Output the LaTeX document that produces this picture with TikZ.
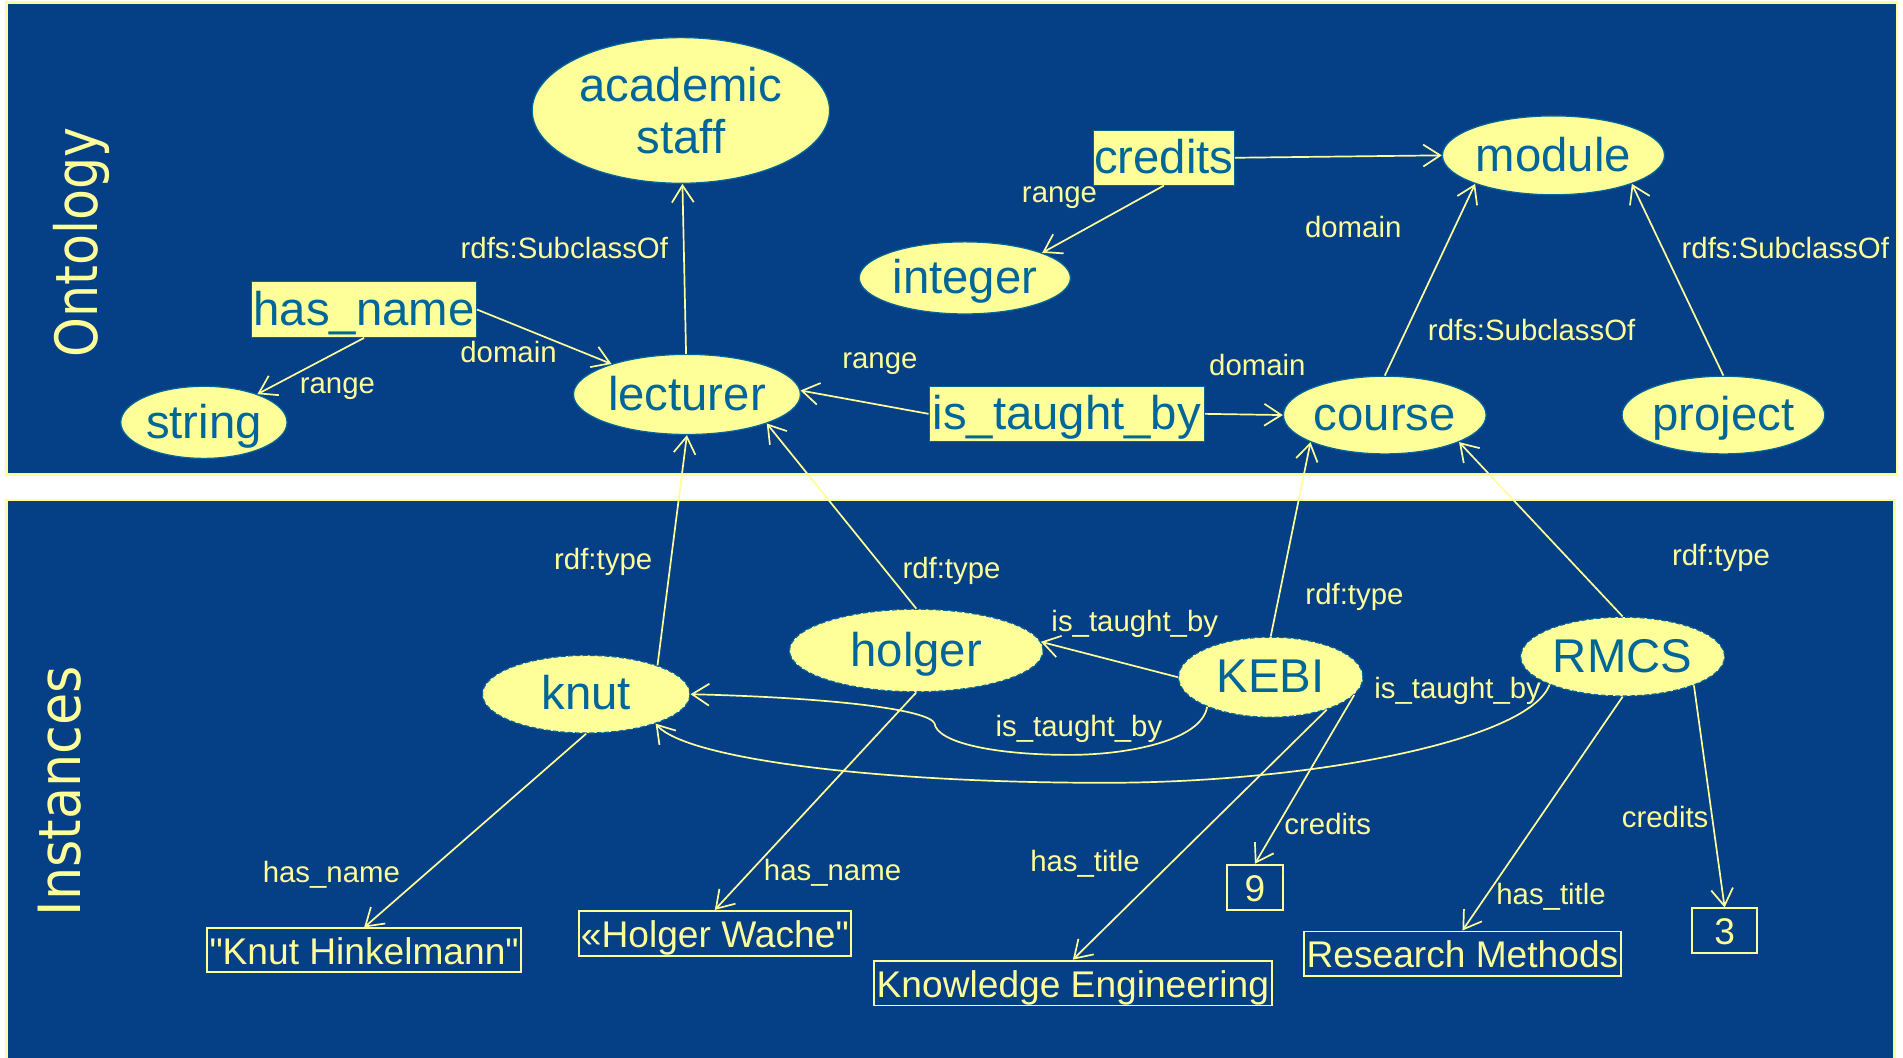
\documentclass[tikz,border=0pt]{standalone}
\usepackage{fontspec}
\setmainfont{Liberation Sans}
\newfontfamily\dejavu{DejaVu Sans}
\usetikzlibrary{shapes.geometric,arrows.meta}
\definecolor{panelblue}{RGB}{5,63,134}
\definecolor{nodeyellow}{RGB}{255,255,153}
\definecolor{nodetext}{RGB}{0,102,153}
\definecolor{lineyellow}{RGB}{255,255,153}
\begin{document}
\begin{tikzpicture}[x=0.5pt,y=-0.5pt,
 cls/.style={ellipse, fill=nodeyellow, draw=nodetext, line width=0.5pt, inner sep=0pt, text=nodetext, font=\fontsize{19.5}{21.5}\selectfont, align=center},
 txtbox/.style={text height=17pt, text depth=4pt},
 inst/.style={cls, txtbox, dash pattern=on 2pt off 1pt},
 prop/.style={rectangle, fill=nodeyellow, draw=nodetext, line width=0.4pt, inner sep=0pt, text=nodetext, font=\fontsize{19.5}{21.5}\selectfont, txtbox},
 lit/.style={rectangle, draw=lineyellow, line width=0.8pt, inner sep=0pt, text=lineyellow, font=\fontsize{15.3}{18}\selectfont, text height=13pt, text depth=1.5pt},
 lbl/.style={text=lineyellow, font=\fontsize{12.1}{14}\selectfont, inner sep=0pt},
 arr/.style={draw=lineyellow, line width=0.7pt, -{Straight Barb[length=7pt,width=9pt]}},
 panel/.style={draw=lineyellow, line width=1.2pt, fill=panelblue},
 side/.style={text=lineyellow, rotate=90, inner sep=0pt, font=\dejavu\fontsize{24}{28}\selectfont},
]
\useasboundingbox (0,0) rectangle (1568,871);
\fill[white] (0,0) rectangle (1568,871);
\draw[panel] (5,2) rectangle (1563,391);
\draw[panel] (5,412) rectangle (1561,890);

\node[side] (ont) at (67,200) {\scalebox{0.87}[1]{Ontology}};
\node[side] (ins) at (49,652) {\scalebox{0.9}[1]{Instances}};

% ontology classes
\node[cls, minimum width=122.5pt, minimum height=60pt] (acad) at (561,91) {academic\\staff};
\node[cls, txtbox, minimum width=68.5pt, minimum height=28.5pt] (string) at (168,348) {string};
\node[cls, txtbox, minimum width=93.5pt, minimum height=33pt] (lecturer) at (566,325) {lecturer};
\node[cls, txtbox, minimum width=87pt, minimum height=29pt] (integer) at (795,229) {integer};
\node[cls, txtbox, minimum width=91.5pt, minimum height=32.5pt] (module) at (1280,128) {module};
\node[cls, txtbox, minimum width=83.5pt, minimum height=32pt] (course) at (1141,342) {course};
\node[cls, txtbox, minimum width=83.5pt, minimum height=32pt] (project) at (1420,342) {project};

% properties
\node[prop, minimum width=92.5pt, minimum height=23pt] (hasname) at (300,255) {has\_name};
\node[prop, minimum width=58pt, minimum height=22.5pt] (credits) at (959,130) {credits};
\node[prop, minimum width=113.5pt, minimum height=22.5pt] (itb) at (879,341) {is\_taught\_by};

% instances
\node[inst, minimum width=85.5pt, minimum height=32pt] (knut) at (483,572) {knut};
\node[inst, minimum width=104.5pt, minimum height=34pt] (holger) at (755,536) {holger};
\node[inst, minimum width=76pt, minimum height=33pt] (KEBI) at (1047,558) {KEBI};
\node[inst, minimum width=84pt, minimum height=32.5pt] (RMCS) at (1337,541) {RMCS};

% literals
\node[lit, minimum width=129.5pt, minimum height=18pt] (litknut) at (300,783) {\textquotedbl Knut Hinkelmann\textquotedbl};
\node[lit, minimum width=112pt, minimum height=18.5pt] (litholger) at (589,769) {«Holger Wache\textquotedbl};
\node[lit, minimum width=164pt, minimum height=18.5pt] (litke) at (884,810) {Knowledge Engineering};
\node[lit, minimum width=23pt, minimum height=18.5pt] (lit9) at (1034,731) {9};
\node[lit, minimum width=130.5pt, minimum height=18.5pt] (litrm) at (1205,786) {Research Methods};
\node[lit, minimum width=27pt, minimum height=18.5pt] (lit3) at (1421,767) {3};

% ontology edges
\draw[arr] (lecturer) -- (acad);
\draw[arr] (hasname.east) -- (lecturer);
\draw[arr] (hasname.south) -- (string);
\draw[arr] (itb.west) -- (lecturer.2);
\draw[arr] (itb.east) -- (course.west);
\draw[arr] (credits.east) -- (module.west);
\draw[arr] (credits.south) -- (integer.18);
\draw[arr] (course.north) -- (module.200);
\draw[arr] (project.north) -- (module.340);

% instance edges
\draw[arr] (knut.22) -- (lecturer.south);
\draw[arr] (holger.north) -- (lecturer.340);
\draw[arr] (KEBI.north) -- (course.200);
\draw[arr] (RMCS.north) -- (course.340);
\draw[arr] (KEBI.west) -- (holger.4);
\draw[arr] (KEBI.205) .. controls (990,610) and (930,622) .. (881,622)
  .. controls (820,622) and (772,612) .. (770,596)
  .. controls (765,585) and (690,575) .. (knut.east);
\draw[arr] (RMCS.201) .. controls (1260,610) and (1080,645) .. (910,645)
  .. controls (720,645) and (565,625) .. (knut.337);
\draw[arr] (knut.south) -- (litknut.north);
\draw[arr] (holger.south) -- (litholger.north);
\draw[arr] (KEBI.330) -- (litke.north);
\draw[arr] (KEBI.348) -- (lit9.north);
\draw[arr] (RMCS.south) -- (litrm.north);
\draw[arr] (RMCS.338) -- (lit3.north);

% labels
\node[lbl] (l1) at (465,204) {rdfs:SubclassOf};
\node[lbl] (l2) at (419,290) {domain};
\node[lbl] (l3) at (278,320) {range};
\node[lbl] (l4) at (725,300) {range};
\node[lbl] (l5) at (1036,301) {domain};
\node[lbl] (l6) at (1115,187) {domain};
\node[lbl] (l7) at (873,163) {range};
\node[lbl] (l8) at (1262,272) {rdfs:SubclassOf};
\node[lbl] (l9) at (1471,204) {rdfs:SubclassOf};
\node[lbl] (l10) at (497,463) {rdf:type};
\node[lbl] (l11) at (784,470) {rdf:type};
\node[lbl] (l12) at (1116,492) {rdf:type};
\node[lbl] (l13) at (1418,460) {rdf:type};
\node[lbl] (l14) at (935,514) {is\_taught\_by};
\node[lbl] (l15) at (889,601) {is\_taught\_by};
\node[lbl] (l16) at (1201,569) {is\_taught\_by};
\node[lbl] (l17) at (273,721) {has\_name};
\node[lbl] (l18) at (686,719) {has\_name};
\node[lbl] (l19) at (894,712) {has\_title};
\node[lbl] (l20) at (1094,679) {credits};
\node[lbl] (l21) at (1278,739) {has\_title};
\node[lbl] (l22) at (1372,673) {credits};
\end{tikzpicture}
\end{document}
